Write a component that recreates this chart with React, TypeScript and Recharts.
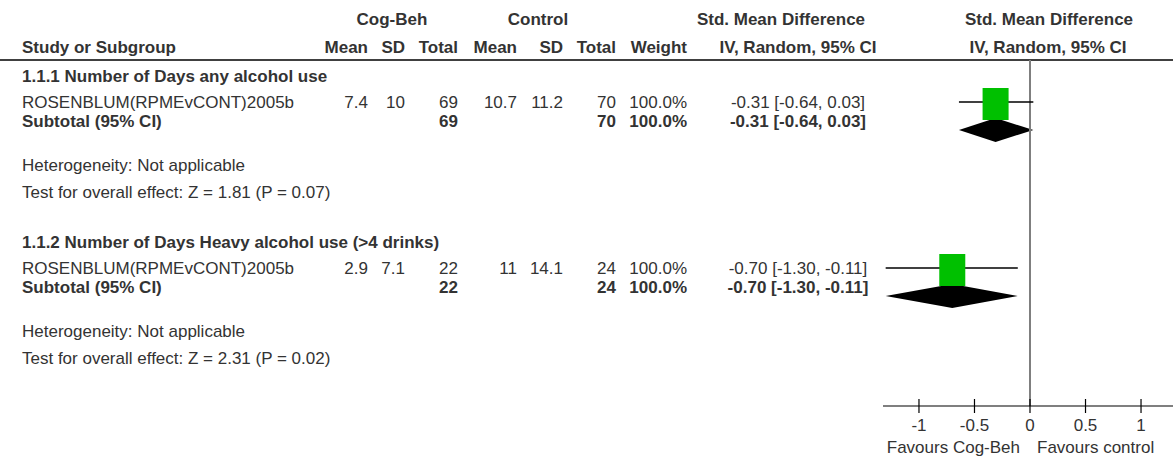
import React from 'react';
import {
  ScatterChart,
  Scatter,
  XAxis,
  YAxis,
  ReferenceLine,
  ReferenceArea,
  Customized,
} from 'recharts';

// forest plot data, one entry per subgroup (each subgroup holds a single study)
const subgroups = [
  '1.1.1 Number of Days any alcohol use',
  '1.1.2 Number of Days Heavy alcohol use (>4 drinks)',
];
const studyNames = ['ROSENBLUM(RPMEvCONT)2005b', 'ROSENBLUM(RPMEvCONT)2005b'];
const cogMean = [7.4, 2.9];
const cogSD = [10, 7.1];
const cogTotal = [69, 22];
const ctlMean = [10.7, 11];
const ctlSD = [11.2, 14.1];
const ctlTotal = [70, 24];
const weights = [100.0, 100.0];
const smd = [-0.31, -0.7];
const ciLow = [-0.64, -1.3];
const ciHigh = [0.03, -0.11];
const zValues = [1.81, 2.31];
const pValues = [0.07, 0.02];
const xTicks = [-1, -0.5, 0, 0.5, 1];

// layout (pixel rows, the y axis runs in page pixels)
const SECTION_TOP = [76, 242];
const STUDY_OFFSET = 26;
const SUBTOTAL_OFFSET = 45;
const HET_OFFSET = 89;
const TEST_OFFSET = 116;
const DIAMOND_SHIFT = 54;
const DIAMOND_HALF = 12;

const FONT = '"Liberation Sans", Arial, sans-serif';
const FS = 17;
const TEXT = '#333';

const COLS = {
  cogMean: 368,
  cogSD: 405,
  cogTotal: 458,
  ctlMean: 517,
  ctlSD: 563,
  ctlTotal: 616,
  weight: 687,
  ci: 798,
};

const fmtCI = (i: number) =>
  `${smd[i].toFixed(2)} [${ciLow[i].toFixed(2)}, ${ciHigh[i].toFixed(2)}]`;

const squares = smd.map((v, i) => ({ x: v, y: SECTION_TOP[i] + STUDY_OFFSET }));

function T(props: any) {
  const { x, y, children, bold, anchor } = props;
  return (
    <text
      x={x}
      y={y}
      fontFamily={FONT}
      fontSize={FS}
      fontWeight={bold ? 'bold' : 'normal'}
      fill={TEXT}
      textAnchor={anchor || 'start'}
      dominantBaseline="central"
    >
      {children}
    </text>
  );
}

function TableText() {
  return (
    <g>
      <T x={392} y={19} bold anchor="middle">Cog-Beh</T>
      <T x={538} y={19} bold anchor="middle">Control</T>
      <T x={781} y={19} bold anchor="middle">Std. Mean Difference</T>
      <T x={1049} y={19} bold anchor="middle">Std. Mean Difference</T>
      <T x={22} y={47} bold>Study or Subgroup</T>
      <T x={COLS.cogMean} y={47} bold anchor="end">Mean</T>
      <T x={COLS.cogSD} y={47} bold anchor="end">SD</T>
      <T x={COLS.cogTotal} y={47} bold anchor="end">Total</T>
      <T x={COLS.ctlMean} y={47} bold anchor="end">Mean</T>
      <T x={COLS.ctlSD} y={47} bold anchor="end">SD</T>
      <T x={COLS.ctlTotal} y={47} bold anchor="end">Total</T>
      <T x={COLS.weight} y={47} bold anchor="end">Weight</T>
      <T x={COLS.ci} y={47} bold anchor="middle">IV, Random, 95% CI</T>
      <T x={1048} y={47} bold anchor="middle">IV, Random, 95% CI</T>
      <line x1={0} x2={1173} y1={60} y2={60} stroke="#000" strokeWidth={1.5} />

      {subgroups.map((name, i) => {
        const top = SECTION_TOP[i];
        const s = top + STUDY_OFFSET;
        const t = top + SUBTOTAL_OFFSET;
        return (
          <g key={name}>
            <T x={22} y={top} bold>{name}</T>
            <T x={22} y={s}>{studyNames[i]}</T>
            <T x={COLS.cogMean} y={s} anchor="end">{cogMean[i]}</T>
            <T x={COLS.cogSD} y={s} anchor="end">{cogSD[i]}</T>
            <T x={COLS.cogTotal} y={s} anchor="end">{cogTotal[i]}</T>
            <T x={COLS.ctlMean} y={s} anchor="end">{ctlMean[i]}</T>
            <T x={COLS.ctlSD} y={s} anchor="end">{ctlSD[i]}</T>
            <T x={COLS.ctlTotal} y={s} anchor="end">{ctlTotal[i]}</T>
            <T x={COLS.weight} y={s} anchor="end">{weights[i].toFixed(1)}%</T>
            <T x={COLS.ci} y={s} anchor="middle">{fmtCI(i)}</T>
            <T x={22} y={t} bold>Subtotal (95% CI)</T>
            <T x={COLS.cogTotal} y={t} bold anchor="end">{cogTotal[i]}</T>
            <T x={COLS.ctlTotal} y={t} bold anchor="end">{ctlTotal[i]}</T>
            <T x={COLS.weight} y={t} bold anchor="end">{weights[i].toFixed(1)}%</T>
            <T x={COLS.ci} y={t} bold anchor="middle">{fmtCI(i)}</T>
            <T x={22} y={top + HET_OFFSET}>Heterogeneity: Not applicable</T>
            <T x={22} y={top + TEST_OFFSET}>
              {`Test for overall effect: Z = ${zValues[i].toFixed(2)} (P = ${pValues[i].toFixed(2)})`}
            </T>
          </g>
        );
      })}

      <T x={1020} y={447} anchor="end">Favours Cog-Beh</T>
      <T x={1037} y={447}>Favours control</T>
    </g>
  );
}

const AxisTick = (props: any) => {
  const { x, y, payload } = props;
  return (
    <g>
      <line x1={x} x2={x} y1={y - 7} y2={y + 7} stroke="#000" strokeWidth={1.2} />
      <text
        x={x}
        y={y + 19}
        fontFamily={FONT}
        fontSize={FS}
        fill={TEXT}
        textAnchor="middle"
        dominantBaseline="central"
      >
        {payload.value}
      </text>
    </g>
  );
};

const StudySquare = (props: any) => {
  const { cx, cy } = props;
  return <rect x={cx - 13} y={cy - 14} width={26} height={32} fill="#00c000" />;
};

const makeDiamond = (frac: number) => (props: any) => {
  const { x, y, width, height } = props;
  const left = Math.min(x, x + width);
  const right = Math.max(x, x + width);
  const top = Math.min(y, y + height);
  const bottom = Math.max(y, y + height);
  const mid = left + (right - left) * frac;
  const cy = (top + bottom) / 2;
  return (
    <polygon
      points={`${left},${cy} ${mid},${top} ${right},${cy} ${mid},${bottom}`}
      fill="#000"
    />
  );
};

export default function App() {
  return (
    <div
      style={{
        position: 'absolute',
        left: 0,
        top: 0,
        width: 1173,
        height: 459,
        overflow: 'hidden',
        background: '#fff',
      }}
    >
      <ScatterChart
        width={1177}
        height={459}
        margin={{ top: 60, right: 0, bottom: 0, left: 883 }}
      >
        <XAxis
          type="number"
          dataKey="x"
          domain={[-1.324, 1.324]}
          ticks={xTicks}
          interval={0}
          height={53}
          allowDataOverflow
          axisLine={{ stroke: '#000', strokeWidth: 1.2 }}
          tickLine={false}
          tickSize={0}
          tickMargin={0}
          tick={<AxisTick />}
        />
        <YAxis type="number" dataKey="y" domain={[60, 406]} reversed hide />
        <ReferenceLine x={0} stroke="#7f7f7f" strokeWidth={2} />
        {smd.map((v, i) => {
          const y = SECTION_TOP[i] + STUDY_OFFSET;
          return (
            <ReferenceLine
              key={`ci-${i}`}
              segment={[
                { x: ciLow[i], y },
                { x: ciHigh[i], y },
              ]}
              stroke="#000"
              strokeWidth={1.5}
            />
          );
        })}
        {smd.map((v, i) => {
          const cy = SECTION_TOP[i] + DIAMOND_SHIFT;
          return (
            <ReferenceArea
              key={`dia-${i}`}
              x1={ciLow[i]}
              x2={ciHigh[i]}
              y1={cy - DIAMOND_HALF}
              y2={cy + DIAMOND_HALF}
              shape={makeDiamond((v - ciLow[i]) / (ciHigh[i] - ciLow[i]))}
            />
          );
        })}
        <Scatter data={squares} shape={<StudySquare />} isAnimationActive={false} />
        <Customized component={TableText} />
      </ScatterChart>
    </div>
  );
}
